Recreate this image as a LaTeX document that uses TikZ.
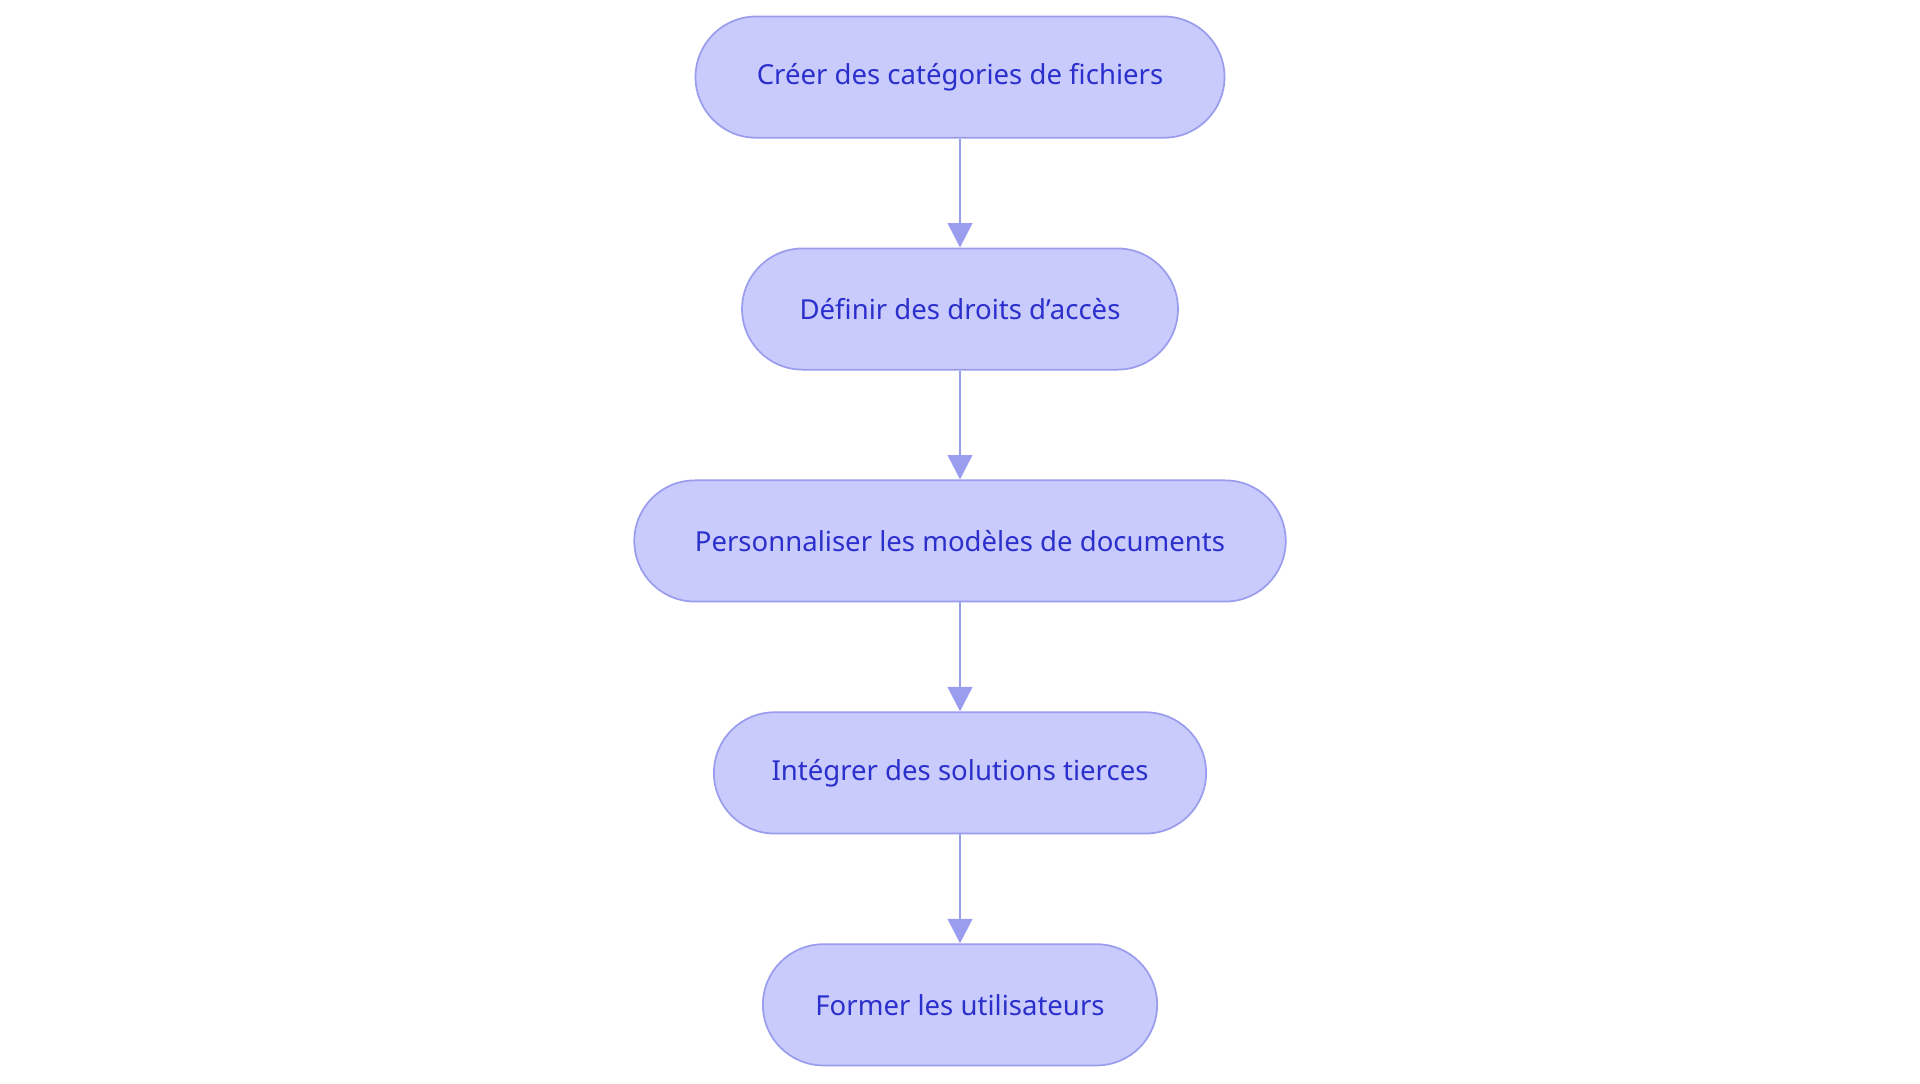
\documentclass[tikz,border=0pt]{standalone}
\usepackage{fontspec}
\setmainfont{Noto Sans}
\usetikzlibrary{positioning, arrows.meta}
\definecolor{boxfill}{HTML}{C9CBFD}
\definecolor{boxline}{HTML}{9A9DEE}
\definecolor{boxtext}{HTML}{2B2FCB}
\begin{document}
\begin{tikzpicture}[node distance=0.89cm]
\tikzset{etape/.style={draw=boxline, fill=boxfill, text=boxtext, rounded corners=0.495cm,
    minimum height=0.99cm, line width=0.4pt, font=\fontsize{6.4}{8}\selectfont},
  link/.style={draw=boxline, line width=0.6pt, -{Triangle[length=0.2cm, width=0.2cm]}}}
\useasboundingbox (0,0) rectangle (15.68,8.845);

\node[etape, minimum width=4.32cm] (cat) at (7.84,8.215) {Créer des catégories de fichiers};
\node[etape, minimum width=3.56cm, below=of cat] (droits) {Définir des droits d'accès};
\node[etape, minimum width=5.32cm, below=of droits] (modeles) {Personnaliser les modèles de documents};
\node[etape, minimum width=4.02cm, below=of modeles] (tierces) {Intégrer des solutions tierces};
\node[etape, minimum width=3.22cm, below=of tierces] (former) {Former les utilisateurs};

\draw[link] (cat) -- (droits);
\draw[link] (droits) -- (modeles);
\draw[link] (modeles) -- (tierces);
\draw[link] (tierces) -- (former);

\end{tikzpicture}
\end{document}
